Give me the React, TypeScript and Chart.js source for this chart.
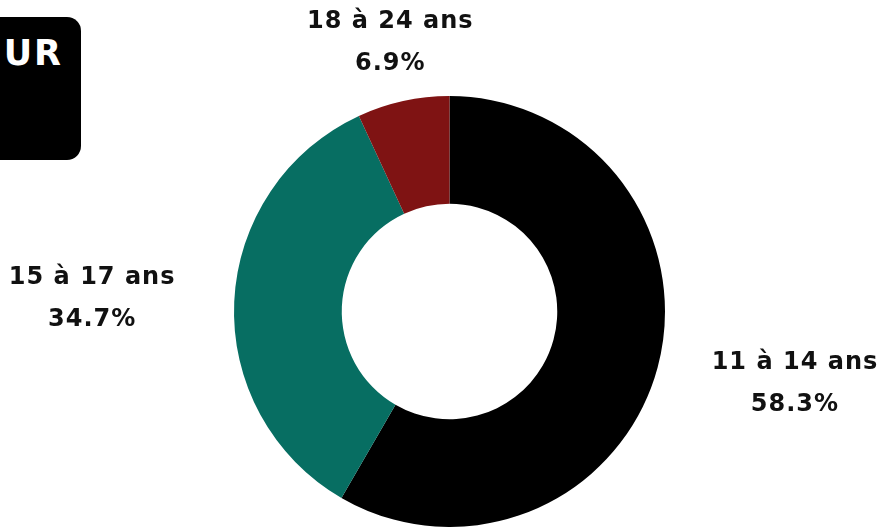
import React, { useEffect, useRef } from "react";
import { Chart, registerables } from "chart.js";

Chart.register(...registerables);

const categories: string[] = ["11 à 14 ans", "15 à 17 ans", "18 à 24 ans"];
const shares: number[] = [58.3, 34.7, 6.9];
const colors: string[] = ["#000000", "#076e62", "#7f1313"];
const headerText = "UR";

const LINE_GAP = 42;
const HALF_BLOCK = 42;
const EDGE = 1;

const outsideLabels = {
  id: "outsideLabels",
  afterDraw(chart: any) {
    const ctx = chart.ctx;
    const meta = chart.getDatasetMeta(0);
    const H = chart.height;
    ctx.save();
    ctx.fillStyle = "#111111";
    ctx.font = "bold 24px 'DejaVu Sans'";
    (ctx as any).letterSpacing = "1px";
    ctx.textAlign = "center";
    ctx.textBaseline = "middle";
    meta.data.forEach((arc: any, i: number) => {
      const { x, y, startAngle, endAngle, outerRadius } = arc.getProps(
        ["x", "y", "startAngle", "endAngle", "outerRadius"],
        true
      );
      const mid = (startAngle + endAngle) / 2;
      const dx = Math.cos(mid);
      const dy = Math.sin(mid);
      let lx = x + dx * outerRadius * 1.66;
      let ly = y + dy * outerRadius * 1.285;
      if (ly - HALF_BLOCK < EDGE + 2) {
        const t = (y - (EDGE + HALF_BLOCK)) / -dy;
        lx = x + dx * t;
        ly = y + dy * t;
      } else if (ly + HALF_BLOCK > H - EDGE) {
        const t = (H - EDGE - HALF_BLOCK - y) / dy;
        lx = x + dx * t;
        ly = y + dy * t;
      }
      ctx.fillText(categories[i], lx, ly - LINE_GAP / 2);
      ctx.fillText(shares[i].toFixed(1) + "%", lx, ly + LINE_GAP / 2);
    });
    ctx.restore();
  },
};

export default function App() {
  const ref = useRef<HTMLCanvasElement | null>(null);
  useEffect(() => {
    if (!ref.current) return;
    const chart = new Chart(ref.current, {
      type: "doughnut",
      data: {
        labels: categories,
        datasets: [
          {
            data: shares,
            backgroundColor: colors,
            borderWidth: 0,
          },
        ],
      },
      options: {
        responsive: false,
        animation: false,
        cutout: "50%",
        layout: { padding: { top: 96, bottom: 0, left: 17, right: 0 } },
        plugins: {
          legend: { display: false },
          tooltip: { enabled: false },
        },
      },
      plugins: [outsideLabels],
    });
    return () => chart.destroy();
  }, []);

  return (
    <div
      style={{
        position: "fixed",
        left: 0,
        top: 0,
        width: 882,
        height: 527,
        overflow: "hidden",
        background: "#ffffff",
      }}
    >
      <canvas
        ref={ref}
        width={882}
        height={527}
        style={{ position: "absolute", left: 0, top: 0, width: 882, height: 527 }}
      />
      <div
        style={{
          position: "absolute",
          left: -30,
          top: 17,
          width: 111,
          height: 143,
          background: "#000000",
          borderRadius: 14,
          boxSizing: "border-box",
          paddingTop: 19,
          paddingRight: 18,
          textAlign: "right",
          color: "#ffffff",
          fontFamily: "'DejaVu Sans', sans-serif",
          fontWeight: 700,
          fontSize: 35,
          lineHeight: "34px",
          letterSpacing: 2,
          whiteSpace: "nowrap",
        }}
      >
        {headerText}
      </div>
    </div>
  );
}
